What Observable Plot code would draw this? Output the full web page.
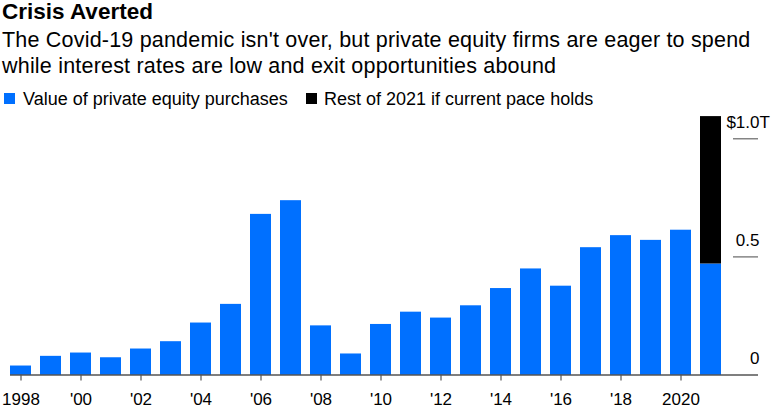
<!DOCTYPE html>
<html>
<head>
<meta charset="utf-8">
<script src="https://cdn.jsdelivr.net/npm/d3@7"></script>
<script src="https://cdn.jsdelivr.net/npm/@observablehq/plot@0.6"></script>
<style>
  html, body { margin: 0; padding: 0; background: #fff; }
  body { width: 777px; height: 411px; position: relative; overflow: hidden;
         font-family: "Liberation Sans", Arial, Helvetica, sans-serif; color: #000; }
  .abs { position: absolute; white-space: nowrap; }
  #title { left: 2px; top: 1px; font-size: 22.5px; line-height: 22px; font-weight: bold; }
  #subtitle { left: 2px; top: 26.6px; font-size: 21.5px; line-height: 26px; letter-spacing: 0.2px; }
  .leg { top: 90px; font-size: 18px; line-height: 18px; }
  .sw { position: absolute; width: 11px; height: 11px; top: 93px; }
  #chart { position: absolute; left: 0; top: 110px; }
</style>
</head>
<body>
<div id="title" class="abs">Crisis Averted</div>
<div id="subtitle" class="abs">The Covid-19 pandemic isn't over, but private equity firms are eager to spend<br>while interest rates are low and exit opportunities abound</div>
<div class="sw" style="left:4px; background:#0070ff;"></div>
<div class="abs leg" style="left:23px;">Value of private equity purchases</div>
<div class="sw" style="left:306px; background:#000;"></div>
<div class="abs leg" style="left:324px;">Rest of 2021 if current pace holds</div>
<div id="chart"></div>
<script>
// Data (trillions of dollars)
const years = [1998, 1999, 2000, 2001, 2002, 2003, 2004, 2005, 2006, 2007, 2008, 2009,
               2010, 2011, 2012, 2013, 2014, 2015, 2016, 2017, 2018, 2019, 2020, 2021];
const purchases = [0.038, 0.079, 0.093, 0.073, 0.110, 0.141, 0.220, 0.299, 0.680, 0.738, 0.208, 0.089,
                   0.214, 0.266, 0.241, 0.293, 0.366, 0.449, 0.376, 0.539, 0.590, 0.570, 0.613, 0.470];
const restOf2021 = [{year: 2021, value: 0.624}];
const xTicks = [1998, 2000, 2002, 2004, 2006, 2008, 2010, 2012, 2014, 2016, 2018, 2020];
const yTicks = [0, 0.5, 1.0];
const yTickLabels = ["0", "0.5", "$1.0"];

const seriesNames = ["Value of private equity purchases", "Rest of 2021 if current pace holds"];
const rows = years.map((y, i) => ({year: y, value: purchases[i], series: seriesNames[0]}))
  .concat(restOf2021.map(d => ({year: d.year, value: d.value, series: seriesNames[1]})));
const yLabelRows = yTicks.map((v, i) => ({v, label: yTickLabels[i]}));

const chart = Plot.plot({
  width: 777,
  height: 301,
  marginLeft: 10,
  marginRight: 19,
  marginTop: 28.3,
  marginBottom: 36.5,
  style: {fontFamily: "'Liberation Sans', Arial, sans-serif", fontSize: "17px", color: "#000", background: "transparent"},
  x: {type: "band", domain: years, paddingInner: 0.3, paddingOuter: 0.567, align: 0},
  y: {domain: [0, 1], axis: null},
  color: {domain: seriesNames, range: ["#0070ff", "#000000"]},
  marks: [
    Plot.barY(rows, Plot.stackY({x: "year", y: "value", fill: "series", order: seriesNames})),
    Plot.tickY(yTicks.filter(v => v > 0), {y: d => d, insetLeft: 723, stroke: "#666", strokeWidth: 1.2}),
    Plot.ruleY([0], {stroke: "#000", strokeWidth: 1.2}),
    Plot.text(yLabelRows, {y: "v", text: "label", frameAnchor: "right", textAnchor: "end", lineAnchor: "bottom", dx: 1, dy: -11, fill: "#000", fontSize: 17}),
    Plot.text([1.0], {y: d => d, text: () => "T", frameAnchor: "right", textAnchor: "start", lineAnchor: "bottom", dx: 1, dy: -11, fill: "#000", fontSize: 17}),
    Plot.axisX({ticks: xTicks, tickSize: 6, tickPadding: 12, stroke: "#555", strokeWidth: 1.2, fill: "#000", fontSize: 17,
      tickFormat: d => (d === 1998 || d === 2020) ? String(d) : "'" + String(d).slice(2), label: null})
  ]
});
document.getElementById("chart").appendChild(chart);
</script>
</body>
</html>
